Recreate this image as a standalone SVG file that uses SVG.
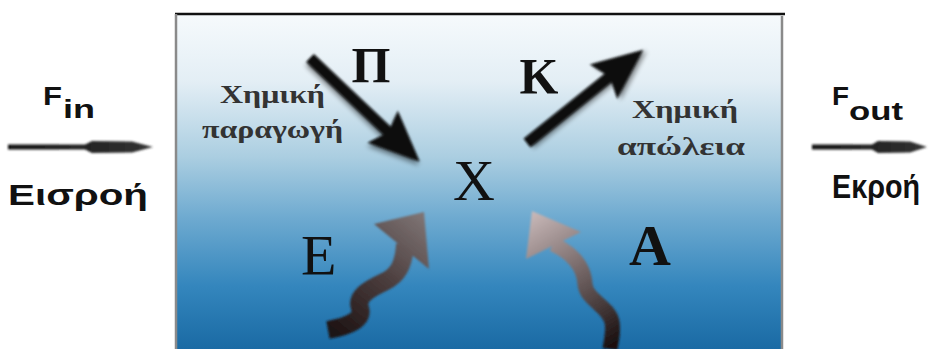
<svg xmlns="http://www.w3.org/2000/svg" width="932" height="349" viewBox="0 0 932 349">
<defs>
  <linearGradient id="bg" x1="0" y1="0" x2="0" y2="1">
    <stop offset="0" stop-color="#f6fafc"/>
    <stop offset="0.2" stop-color="#e3eef5"/>
    <stop offset="0.42" stop-color="#abcee1"/>
    <stop offset="0.6" stop-color="#6eaad0"/>
    <stop offset="0.8" stop-color="#3486bd"/>
    <stop offset="1" stop-color="#1868a2"/>
  </linearGradient>
  <linearGradient id="gE" gradientUnits="userSpaceOnUse" x1="422" y1="215" x2="328" y2="330">
    <stop offset="0" stop-color="#7e7474"/>
    <stop offset="0.5" stop-color="#4a3c3c"/>
    <stop offset="1" stop-color="#1c1212"/>
  </linearGradient>
  <linearGradient id="gA" gradientUnits="userSpaceOnUse" x1="532" y1="212" x2="612" y2="345">
    <stop offset="0" stop-color="#c9b9b9"/>
    <stop offset="0.45" stop-color="#7a6c6c"/>
    <stop offset="1" stop-color="#1a1010"/>
  </linearGradient>
  <linearGradient id="gFlow" x1="0" y1="0" x2="1" y2="0">
    <stop offset="0" stop-color="#111"/>
    <stop offset="1" stop-color="#333"/>
  </linearGradient>
  <filter id="soft" x="-20%" y="-20%" width="140%" height="140%">
    <feGaussianBlur stdDeviation="1.3"/>
  </filter>
  <filter id="shadow" x="-20%" y="-20%" width="140%" height="140%">
    <feGaussianBlur in="SourceAlpha" stdDeviation="2.5" result="b"/>
    <feOffset dx="2" dy="3" result="o"/>
    <feComponentTransfer in="o" result="s"><feFuncA type="linear" slope="0.45"/></feComponentTransfer>
    <feGaussianBlur in="SourceGraphic" stdDeviation="0.8" result="g"/>
    <feMerge><feMergeNode in="s"/><feMergeNode in="g"/></feMerge>
  </filter>
</defs>
<style>
  .big { font-family: "Liberation Serif", "Times New Roman", serif; fill: #111; }
  .bold { font-weight: bold; }
  .lbl { font-family: "Liberation Serif", "Times New Roman", serif; fill: #333; font-size: 25px; font-weight: bold; }
  .flow { font-family: "Liberation Sans", Arial, sans-serif; font-weight: bold; fill: #111; }
</style>

<rect width="932" height="349" fill="#ffffff"/>

<g id="reactor">
  <rect x="175" y="14" width="608" height="340" fill="url(#bg)"/>
  <line x1="175" y1="14" x2="785" y2="14" stroke="#111" stroke-width="2.5"/>
  <line x1="176" y1="14" x2="176" y2="349" stroke="#8a8a8a" stroke-width="2.5"/>
  <line x1="782" y1="16" x2="782" y2="349" stroke="#8a8a8a" stroke-width="2.5"/>
</g>

<g id="connectors">
  <g filter="url(#soft)">
    <polygon points="8,144.5 85,144.5 92,141 132,141.5 153,147 132,152.5 92,153 85,149.5 8,149.5" fill="url(#gFlow)"/>
  </g>
  <g filter="url(#soft)">
    <polygon points="812,144.5 872,144.5 878,141 910,141.5 927,147 910,152.5 878,153 872,149.5 812,149.5" fill="url(#gFlow)"/>
  </g>
  <g filter="url(#shadow)" transform="translate(310,58) rotate(43.4)">
    <polygon points="0,-5.5 106,-5.5 100,-22 151,0 100,22 106,5.5 0,5.5" fill="#0a0a0a"/>
  </g>
  <g filter="url(#shadow)" transform="translate(527,143) rotate(-38.7)">
    <polygon points="0,-5.5 104,-5.5 98,-22 149,0 98,22 104,5.5 0,5.5" fill="#0a0a0a"/>
  </g>
  <g filter="url(#soft)">
    <path d="M405,244 C404,266 397,276 384,282 C367,290 356,297 360,308 C364,319 350,326 328,330" fill="none" stroke="url(#gE)" stroke-width="18"/>
    <polygon points="374,224 424,212 429,269" fill="url(#gE)"/>
  </g>
  <g filter="url(#soft)">
    <path d="M553,244 C574,254 584,268 585,284 C586,300 609,306 612,322 C614,333 611,341 610,349" fill="none" stroke="url(#gA)" stroke-width="15"/>
    <polygon points="532,211 526,259 581,232" fill="url(#gA)"/>
  </g>
</g>

<g id="node-X"><text class="big" x="474" y="200" font-size="58" text-anchor="middle">X</text></g>
<g id="node-P"><text class="big bold" x="371" y="82" font-size="50" text-anchor="middle">Π</text></g>
<g id="node-K"><text class="big bold" x="539" y="93" font-size="50" text-anchor="middle">Κ</text></g>
<g id="node-E"><text class="big" x="301" y="275" font-size="58">Ε</text></g>
<g id="node-A"><text class="big bold" x="650" y="265" font-size="58" text-anchor="middle">Α</text></g>

<g id="label-production">
  <text class="lbl" x="220" y="103" textLength="105" lengthAdjust="spacingAndGlyphs">Χημική</text>
  <text class="lbl" x="202" y="138" textLength="141" lengthAdjust="spacingAndGlyphs">παραγωγή</text>
</g>
<g id="label-loss">
  <text class="lbl" x="632" y="118" textLength="106" lengthAdjust="spacingAndGlyphs">Χημική</text>
  <text class="lbl" x="617" y="155" textLength="128" lengthAdjust="spacingAndGlyphs">απώλεια</text>
</g>

<g id="inflow-label">
  <text class="flow" x="43" y="105" font-size="25" textLength="19" lengthAdjust="spacingAndGlyphs">F</text>
  <text class="flow" x="63" y="118" font-size="25" textLength="32" lengthAdjust="spacingAndGlyphs">in</text>
  <text class="flow" x="8" y="205" font-size="30" textLength="140" lengthAdjust="spacingAndGlyphs">Εισροή</text>
</g>
<g id="outflow-label">
  <text class="flow" x="832" y="105" font-size="25" textLength="17" lengthAdjust="spacingAndGlyphs">F</text>
  <text class="flow" x="849" y="120" font-size="25" textLength="54" lengthAdjust="spacingAndGlyphs">out</text>
  <text class="flow" x="832" y="198" font-size="33" textLength="88" lengthAdjust="spacingAndGlyphs">Εκροή</text>
</g>
</svg>
